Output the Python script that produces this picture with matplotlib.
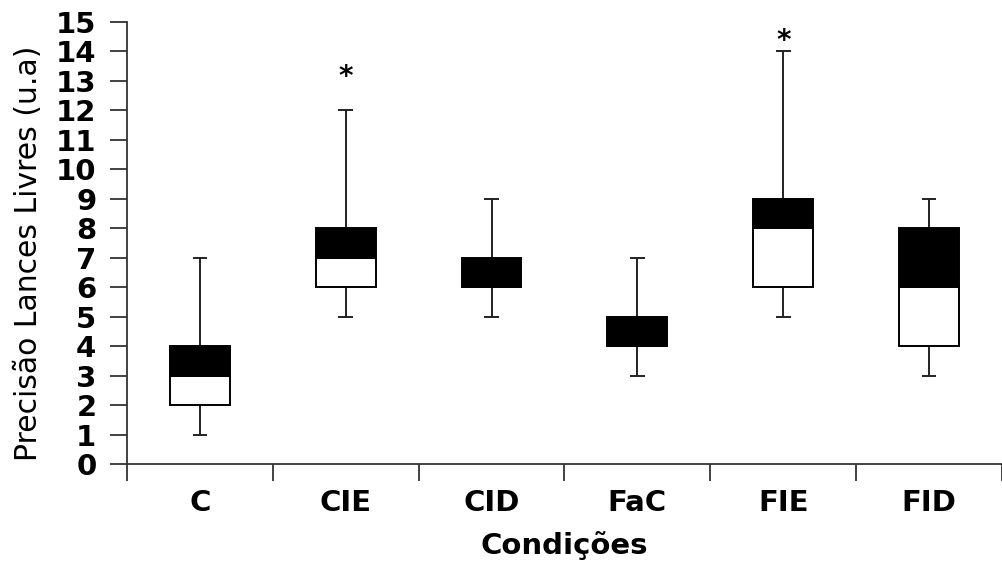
import numpy as np
import matplotlib.pyplot as plt

# Box plot values
categories = ['C', 'CIE', 'CID', 'FaC', 'FIE', 'FID']
mins = [1, 5, 5, 3, 5, 3]
q1 = [2, 6, 6, 4, 6, 4]
medians = [3, 7, 6, 4, 8, 6]
q3 = [4, 8, 7, 5, 9, 8]
maxs = [7, 12, 9, 7, 14, 9]
star_y = [None, 13.3, None, None, 14.55, None]

plt.rcParams['font.family'] = ['DejaVu Sans']

fig = plt.figure(figsize=(10.02, 5.64), dpi=100)
ax = fig.add_axes([0.1267, 0.177, 0.8733, 0.784])

x = np.arange(1, len(categories) + 1)
w = 0.41
lw = 1.4

# lower half white, upper half black
ax.bar(x, np.array(medians) - np.array(q1), bottom=q1, width=w,
       color='white', edgecolor='black', linewidth=lw, zorder=3)
ax.bar(x, np.array(q3) - np.array(medians), bottom=medians, width=w,
       color='black', edgecolor='black', linewidth=lw, zorder=3)

# whiskers and caps
ax.vlines(x, q3, maxs, color='#222222', linewidth=lw, zorder=2)
ax.vlines(x, mins, q1, color='#222222', linewidth=lw, zorder=2)
cap = 0.05
ax.hlines(maxs, x - cap, x + cap, color='#222222', linewidth=lw, zorder=2)
ax.hlines(mins, x - cap, x + cap, color='#222222', linewidth=lw, zorder=2)

for xi, s in zip(x, star_y):
    if s is not None:
        ax.text(xi, s - 0.45, '*', ha='center', va='baseline', fontsize=20,
                fontweight='bold')

ax.set_xlim(0.5, len(categories) + 0.5)
ax.set_ylim(0, 15)
ax.set_yticks(range(0, 16))
ax.tick_params(axis='y', labelsize=21, width=1.3, length=12, pad=10,
               color='#333333')
for t in ax.get_yticklabels():
    t.set_fontweight('bold')

ax.set_xticks(x)
ax.set_xticklabels(categories, fontsize=21, fontweight='bold')
ax.tick_params(axis='x', length=0, pad=18)
ax.set_xticks(np.arange(0.5, len(categories) + 0.6, 1), minor=True)
ax.tick_params(axis='x', which='minor', length=12, width=1.3, color='#333333')

ax.spines['top'].set_visible(False)
ax.spines['right'].set_visible(False)
for sp in ['left', 'bottom']:
    ax.spines[sp].set_linewidth(1.3)
    ax.spines[sp].set_color('#333333')

ax.set_xlabel('Condições', fontsize=21, fontweight='bold', labelpad=10)
ax.set_ylabel('Precisão Lances Livres (u.a)', fontsize=21.5)
ax.yaxis.set_label_coords(-0.096, 0.477)

fig.savefig('out.png', dpi=100)
